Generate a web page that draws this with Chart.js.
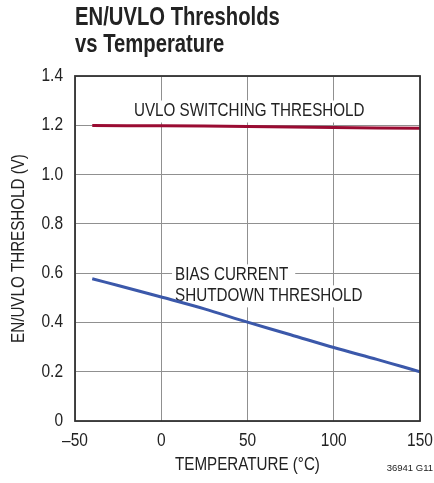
<!DOCTYPE html>
<html>
<head>
<meta charset="utf-8">
<script src="https://cdn.jsdelivr.net/npm/chart.js@4.4.1/dist/chart.umd.min.js"></script>
<style>
  html, body { margin: 0; padding: 0; background: #fff; }
  #wrap { position: relative; width: 434px; height: 483px; }
</style>
</head>
<body>
<div id="wrap"><canvas id="chart" width="434" height="483"></canvas></div>
<script>
(function(){
  const FONT = '"Liberation Sans", Arial, sans-serif';

  // temperatures (°C) / thresholds (V)
  const uvloTemps = [-40, 0, 50, 100, 150];
  const uvloVolts = [1.199, 1.198, 1.195, 1.191, 1.188];

  const biasTemps = [-40, -25, 0, 25, 50, 75, 100, 125, 140, 150];
  const biasVolts = [0.577, 0.55, 0.503, 0.455, 0.401, 0.35, 0.298, 0.25, 0.22, 0.20];

  const xTicks = [-50, 0, 50, 100, 150];
  const yTicks = [0, 0.2, 0.4, 0.6, 0.8, 1.0, 1.2, 1.4];

  const xTitle = 'TEMPERATURE (°C)';
  const yTitle = 'EN/UVLO THRESHOLD (V)';
  const titleLines = ['EN/UVLO Thresholds', 'vs Temperature'];
  const notes = [
    { lines: ['UVLO SWITCHING THRESHOLD'], x: 51, y: 1.26, align: 'center' },
    { lines: ['BIAS CURRENT', 'SHUTDOWN THRESHOLD'], x: 8, y: 0.595, align: 'left' }
  ];

  const pts = (xs, ys) => xs.map((x, i) => ({ x, y: ys[i] }));

  // narrow text: regular face squeezed sideways
  function narrowText(ctx, t, x, y, size, squeeze, weight) {
    ctx.save();
    ctx.font = (weight || '') + ' ' + size + 'px ' + FONT;
    ctx.translate(x, y);
    ctx.scale(squeeze, 1);
    ctx.fillText(t, 0, 0);
    ctx.restore();
  }

  // axis text gets squeezed too, only while the scales are drawn
  const condensedAxes = {
    id: 'condensedAxes',
    beforeDraw(chart) {
      const ctx = chart.ctx;
      const orig = CanvasRenderingContext2D.prototype.fillText;
      ctx.fillText = function(t, x, y) {
        const s = (t === xTitle || t === yTitle) ? 0.82 : 0.86;
        this.save();
        this.translate(x, y);
        this.scale(s, 1);
        orig.call(this, t, 0, 0);
        this.restore();
      };
    },
    beforeDatasetsDraw(chart) {
      delete chart.ctx.fillText;
    }
  };

  const extras = {
    id: 'extras',
    beforeDatasetsDraw(chart) {
      const { ctx, scales: { x, y } } = chart;
      ctx.save();
      ctx.textBaseline = 'middle';
      ctx.textAlign = 'left';
      notes.forEach(n => {
        const px = x.getPixelForValue(n.x);
        const py = y.getPixelForValue(n.y);
        n.lines.forEach((t, i) => {
          ctx.font = '19px ' + FONT;
          const w = ctx.measureText(t).width * 0.8;
          const left = n.align === 'center' ? px - w / 2 : px;
          const ly = py + i * 21;
          ctx.fillStyle = '#fff';
          ctx.fillRect(left - 3, ly - 10, w + 10, 22);
          ctx.fillStyle = '#222';
          narrowText(ctx, t, left, ly, 19, 0.8);
        });
      });
      ctx.restore();
    },
    afterDraw(chart) {
      const { ctx, chartArea: a } = chart;
      ctx.save();
      ctx.strokeStyle = '#333';
      ctx.lineWidth = 1.8;
      ctx.strokeRect(a.left, a.top, a.right - a.left, a.bottom - a.top);

      ctx.fillStyle = '#222';
      ctx.textAlign = 'left';
      ctx.textBaseline = 'alphabetic';
      titleLines.forEach((t, i) => narrowText(ctx, t, a.left, 25 + i * 27, 25, 0.81, 'bold'));

      ctx.textAlign = 'right';
      ctx.font = '9.5px ' + FONT;
      ctx.fillText('36941 G11', 433, 471);
      ctx.restore();
    }
  };

  new Chart(document.getElementById('chart'), {
    type: 'line',
    data: {
      datasets: [
        {
          data: pts(uvloTemps, uvloVolts),
          borderColor: '#9a0b32',
          borderWidth: 3,
          pointRadius: 0,
          tension: 0.3
        },
        {
          data: pts(biasTemps, biasVolts),
          borderColor: '#3b58aa',
          borderWidth: 3,
          pointRadius: 0,
          tension: 0.3
        }
      ]
    },
    options: {
      responsive: false,
      animation: false,
      layout: { padding: { top: 76, right: 14, left: 0, bottom: 0 } },
      plugins: { legend: { display: false }, tooltip: { enabled: false } },
      scales: {
        x: {
          type: 'linear',
          min: -50, max: 150,
          afterFit(s) { s.height = 62; s.paddingLeft = 0; s.paddingRight = 0; },
          afterBuildTicks(s) { s.ticks = xTicks.map(v => ({ value: v })); },
          grid: { color: '#909090', lineWidth: 1, drawTicks: false },
          border: { display: false },
          ticks: {
            autoSkip: false, maxRotation: 0, padding: 9,
            color: '#222', font: { family: FONT, size: 18 },
            callback: v => v < 0 ? '\u2013' + Math.abs(v) : String(v)
          },
          title: {
            display: true, text: xTitle, color: '#222',
            font: { family: FONT, size: 18.5 }, padding: { top: 0, bottom: 7 }
          }
        },
        y: {
          type: 'linear',
          min: 0, max: 1.4,
          afterFit(s) { s.width = 75; s.paddingTop = 0; s.paddingBottom = 0; },
          afterBuildTicks(s) { s.ticks = yTicks.map(v => ({ value: v })); },
          grid: { color: '#909090', lineWidth: 1, drawTicks: false },
          border: { display: false },
          ticks: {
            autoSkip: false, padding: 12,
            color: '#222', font: { family: FONT, size: 18 },
            callback: v => v === 0 ? '0' : v.toFixed(1)
          },
          title: {
            display: true, text: yTitle, color: '#222',
            font: { family: FONT, size: 18.5 }, padding: { top: 8, bottom: 0 }
          }
        }
      }
    },
    plugins: [condensedAxes, extras]
  });
})();
</script>
</body>
</html>
